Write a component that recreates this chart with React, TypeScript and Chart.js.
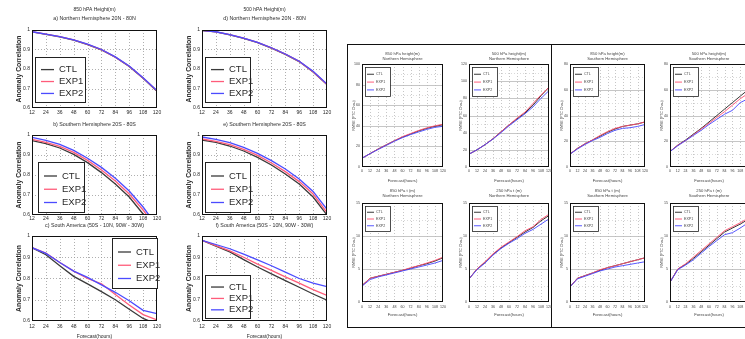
import React, { useEffect, useRef } from "react";
import { Chart, registerables } from "chart.js";

Chart.register(...registerables);

// ---------------- data ----------------
const AC_HOURS = [12, 24, 36, 48, 60, 72, 84, 96, 108, 120];
const RMSE_HOURS = [0, 12, 24, 36, 48, 60, 72, 84, 96, 108, 120];
const SERIES_NAMES = ["CTL", "EXP1", "EXP2"];
const AC_Y_TICKS = [0.6, 0.7, 0.8, 0.9, 1];

// a) 850 hPa NH
const acA_CTL = [0.99, 0.978, 0.965, 0.948, 0.925, 0.898, 0.86, 0.813, 0.753, 0.686];
const acA_EXP1 = [0.991, 0.979, 0.966, 0.949, 0.926, 0.899, 0.861, 0.814, 0.754, 0.688];
const acA_EXP2 = [0.991, 0.979, 0.966, 0.949, 0.927, 0.9, 0.862, 0.815, 0.755, 0.689];
// d) 500 hPa NH
const acD_CTL = [0.997, 0.99, 0.975, 0.957, 0.935, 0.907, 0.875, 0.838, 0.785, 0.72];
const acD_EXP1 = [0.998, 0.99, 0.976, 0.958, 0.936, 0.908, 0.876, 0.839, 0.786, 0.721];
const acD_EXP2 = [0.998, 0.991, 0.976, 0.958, 0.936, 0.909, 0.877, 0.84, 0.788, 0.723];
// b) 850 hPa SH
const acB_CTL = [0.972, 0.957, 0.935, 0.903, 0.862, 0.812, 0.755, 0.69, 0.605, 0.51];
const acB_EXP1 = [0.978, 0.963, 0.943, 0.913, 0.873, 0.825, 0.77, 0.705, 0.625, 0.53];
const acB_EXP2 = [0.988, 0.973, 0.953, 0.923, 0.884, 0.838, 0.784, 0.72, 0.64, 0.545];
// e) 500 hPa SH
const acE_CTL = [0.975, 0.963, 0.945, 0.92, 0.888, 0.85, 0.805, 0.755, 0.69, 0.6];
const acE_EXP1 = [0.98, 0.968, 0.952, 0.928, 0.898, 0.86, 0.817, 0.767, 0.705, 0.612];
const acE_EXP2 = [0.99, 0.978, 0.962, 0.938, 0.908, 0.872, 0.83, 0.78, 0.718, 0.628];
// c) 850 hPa South America
const acC_CTL = [0.945, 0.912, 0.86, 0.81, 0.775, 0.738, 0.7, 0.655, 0.612, 0.585];
const acC_EXP1 = [0.945, 0.92, 0.875, 0.835, 0.8, 0.775, 0.725, 0.675, 0.63, 0.605];
const acC_EXP2 = [0.945, 0.918, 0.875, 0.835, 0.805, 0.77, 0.735, 0.695, 0.65, 0.635];
// f) 500 hPa South America
const acF_CTL = [0.98, 0.952, 0.925, 0.889, 0.854, 0.822, 0.79, 0.759, 0.727, 0.698];
const acF_EXP1 = [0.98, 0.955, 0.93, 0.9, 0.868, 0.838, 0.808, 0.778, 0.748, 0.72];
const acF_EXP2 = [0.98, 0.96, 0.94, 0.915, 0.888, 0.86, 0.83, 0.8, 0.778, 0.762];

// RMSE panels
const rm1_CTL = [8.5, 13, 17.5, 21.5, 25.5, 29, 32, 35, 37.5, 39.5, 41];
const rm1_EXP1 = [8.5, 13, 17.5, 21.5, 25.5, 29.5, 32.5, 35.5, 38, 40, 41.5];
const rm1_EXP2 = [8.5, 13, 17, 21, 25, 28.5, 31.5, 34, 36.5, 38.5, 39.5];

const rm2_CTL = [15, 20, 26, 33, 41, 49, 56, 63, 72, 83, 93];
const rm2_EXP1 = [15, 20, 26, 33, 41, 49, 57, 64, 74, 84, 93];
const rm2_EXP2 = [15, 20, 26, 32.5, 40, 48, 55, 62, 70, 80, 89];

const rm3_CTL = [10, 14.5, 18, 21, 24, 27, 29.5, 31.5, 32.5, 33.5, 35];
const rm3_EXP1 = [10, 14.5, 18, 21, 24.5, 27.5, 30, 31.5, 32.5, 33.5, 35];
const rm3_EXP2 = [10, 14, 17.5, 20.5, 23, 26, 28.5, 30, 30.5, 31.5, 33];

const rm4_CTL = [12, 17, 21, 25.5, 30, 35, 40, 45, 50, 55, 60];
const rm4_EXP1 = [12, 17, 20.5, 25, 29.5, 34, 38.5, 43, 48, 53, 57];
const rm4_EXP2 = [12, 16.5, 20.5, 24.5, 28.5, 33, 37, 41, 44, 50, 53];

const rm5_CTL = [2.5, 3.6, 3.9, 4.2, 4.5, 4.8, 5.1, 5.5, 5.8, 6.2, 6.7];
const rm5_EXP1 = [2.5, 3.6, 3.9, 4.2, 4.5, 4.8, 5.2, 5.5, 5.9, 6.3, 6.8];
const rm5_EXP2 = [2.4, 3.4, 3.8, 4.1, 4.4, 4.7, 5.0, 5.3, 5.6, 5.9, 6.3];

const rm6_CTL = [3.5, 5.0, 6.0, 7.2, 8.2, 9.0, 9.8, 10.6, 11.3, 12.3, 13.1];
const rm6_EXP1 = [3.5, 5.0, 6.1, 7.3, 8.3, 9.1, 9.9, 10.8, 11.4, 12.5, 13.3];
const rm6_EXP2 = [3.5, 4.9, 5.9, 7.1, 8.1, 8.9, 9.6, 10.4, 11.0, 11.8, 12.6];

const rm7_CTL = [2.3, 3.6, 4.0, 4.4, 4.8, 5.2, 5.5, 5.8, 6.1, 6.4, 6.7];
const rm7_EXP1 = [2.3, 3.6, 4.0, 4.4, 4.9, 5.2, 5.5, 5.8, 6.1, 6.4, 6.7];
const rm7_EXP2 = [2.3, 3.5, 3.9, 4.3, 4.7, 5.0, 5.3, 5.5, 5.7, 5.9, 6.1];

const rm8_CTL = [3.0, 5.0, 5.7, 6.6, 7.6, 8.6, 9.6, 10.6, 11.2, 11.8, 12.5];
const rm8_EXP1 = [3.0, 5.0, 5.8, 6.8, 7.8, 8.8, 9.8, 10.8, 11.4, 12.0, 12.7];
const rm8_EXP2 = [3.0, 4.9, 5.6, 6.4, 7.4, 8.4, 9.3, 10.2, 10.5, 11.2, 12.0];

const RM_Y_TICKS_100 = [0, 20, 40, 60, 80, 100];
const RM_Y_TICKS_120 = [0, 20, 40, 60, 80, 100, 120];
const RM_Y_TICKS_80 = [0, 20, 40, 60, 80];
const RM_Y_TICKS_15 = [0, 5, 10, 15];

// ---------------- styling ----------------
const FONT = '"Liberation Sans", Arial, Helvetica, sans-serif';
const AC_COLORS = ["#3a3a3a", "#ff5c7a", "#4b4bff"];
const RM_COLORS = ["#222222", "#ff4d6d", "#4646ff"];

type Txt = { t: string; x: number; y: number; size: number; bold?: boolean; rot?: boolean };
type Leg = { x: number; y: number; w: number; h: number; size: number; l0: number; l1: number; tx: number; r0: number; dr: number; lw: number; bw: number };
type Cfg = {
  key: string;
  cx: number; cy: number; cw: number; ch: number;
  pl: number; pt: number; pr: number; pb: number;
  xs: number[]; ys: number[][];
  xTicks: number[]; yTicks: number[]; yMinor: number[];
  tickSize: number; xPad: number; yPad: number;
  lw: number; colors: string[];
  gridColor: string; minorColor: string; hSolid: boolean;
  texts: Txt[]; legend: Leg; textColor: string; yFmt: (v: number) => string;
};

function makeDecor(o: Cfg) {
  const line = (ctx: CanvasRenderingContext2D, x1: number, y1: number, x2: number, y2: number) => {
    ctx.beginPath();
    ctx.moveTo(x1, y1);
    ctx.lineTo(x2, y2);
    ctx.stroke();
  };
  return {
    id: "decor_" + o.key,
    beforeDatasetsDraw(chart: any) {
      const { ctx, chartArea: a, scales } = chart;
      const sx = scales.x, sy = scales.y;
      ctx.save();
      ctx.lineWidth = 0.8;
      ctx.strokeStyle = o.gridColor;
      ctx.setLineDash([1, 2]);
      o.xTicks.forEach((v) => {
        const p = Math.round(sx.getPixelForValue(v)) + 0.5;
        if (p <= a.left + 1 || p >= a.right - 1) return;
        line(ctx, p, a.top, p, a.bottom);
      });
      ctx.strokeStyle = o.minorColor;
      o.yMinor.forEach((v) => {
        const p = Math.round(sy.getPixelForValue(v)) + 0.5;
        if (p <= a.top + 1 || p >= a.bottom - 1) return;
        line(ctx, a.left, p, a.right, p);
      });
      ctx.strokeStyle = o.gridColor;
      ctx.setLineDash(o.hSolid ? [] : [1, 2]);
      o.yTicks.forEach((v) => {
        const p = Math.round(sy.getPixelForValue(v)) + 0.5;
        if (p <= a.top + 1 || p >= a.bottom - 1) return;
        line(ctx, a.left, p, a.right, p);
      });
      ctx.restore();
    },
    afterDatasetsDraw(chart: any) {
      const { ctx, chartArea: a } = chart;
      ctx.save();
      ctx.setLineDash([]);
      ctx.strokeStyle = "#111";
      ctx.lineWidth = 1;
      ctx.strokeRect(Math.round(a.left) + 0.5, Math.round(a.top) + 0.5, Math.round(a.right - a.left) - 1, Math.round(a.bottom - a.top) - 1);
      // legend box
      const L = o.legend;
      const lx = L.x - o.cx, ly = L.y - o.cy;
      ctx.fillStyle = "#fff";
      ctx.fillRect(lx, ly, L.w, L.h);
      ctx.lineWidth = L.bw;
      ctx.strokeStyle = "#222";
      ctx.strokeRect(lx + 0.5, ly + 0.5, L.w, L.h);
      SERIES_NAMES.forEach((name, i) => {
        const ry = ly + L.h * (L.r0 + i * L.dr);
        ctx.strokeStyle = o.colors[i];
        ctx.lineWidth = L.lw;
        line(ctx, lx + L.l0, ry, lx + L.l1, ry);
        ctx.fillStyle = o.textColor;
        ctx.font = `${L.size}px ${FONT}`;
        ctx.textAlign = "left";
        ctx.textBaseline = "middle";
        ctx.fillText(name, lx + L.tx, ry);
      });
      ctx.restore();
    },
    afterDraw(chart: any) {
      const { ctx } = chart;
      ctx.save();
      o.texts.forEach((t) => {
        ctx.fillStyle = o.textColor;
        ctx.font = `${t.bold ? "bold " : ""}${t.size}px ${FONT}`;
        ctx.textAlign = "center";
        ctx.textBaseline = "middle";
        const x = t.x - o.cx, y = t.y - o.cy;
        if (t.rot) {
          ctx.save();
          ctx.translate(x, y);
          ctx.rotate(-Math.PI / 2);
          ctx.fillText(t.t, 0, 0);
          ctx.restore();
        } else {
          ctx.fillText(t.t, x, y);
        }
      });
      ctx.restore();
    },
  };
}

function Panel({ cfg }: { cfg: Cfg }) {
  const ref = useRef<HTMLCanvasElement | null>(null);
  useEffect(() => {
    if (!ref.current) return;
    const o = cfg;
    const font = { family: FONT, size: o.tickSize };
    const chart = new Chart(ref.current, {
      type: "line",
      data: {
        datasets: o.ys.map((ys, i) => ({
          label: SERIES_NAMES[i],
          data: o.xs.map((x, j) => ({ x, y: ys[j] })),
          borderColor: o.colors[i],
          backgroundColor: o.colors[i],
          borderWidth: o.lw,
          pointRadius: 0,
          tension: 0,
          fill: false,
          order: 2 - i,
        })),
      },
      options: {
        animation: false,
        responsive: false,
        events: [],
        layout: { padding: { left: 0, top: o.pt - o.cy, right: o.cx + o.cw - o.pr, bottom: 0 } },
        plugins: { legend: { display: false }, tooltip: { enabled: false }, title: { display: false } },
        scales: {
          x: {
            type: "linear",
            min: o.xTicks[0],
            max: o.xTicks[o.xTicks.length - 1],
            afterBuildTicks: (s: any) => { s.ticks = o.xTicks.map((v) => ({ value: v })); },
            afterFit: (s: any) => { s.height = o.cy + o.ch - o.pb; },
            grid: { display: false, drawTicks: false },
            border: { display: false },
            ticks: { font, color: o.textColor, padding: o.xPad, maxRotation: 0, autoSkip: false, callback: (v: any) => String(v) },
          },
          y: {
            type: "linear",
            min: o.yTicks[0],
            max: o.yTicks[o.yTicks.length - 1],
            afterBuildTicks: (s: any) => { s.ticks = o.yTicks.map((v) => ({ value: v })); },
            afterFit: (s: any) => { s.width = o.pl - o.cx; },
            grid: { display: false, drawTicks: false },
            border: { display: false },
            ticks: { font, color: o.textColor, padding: o.yPad, autoSkip: false, callback: (v: any) => o.yFmt(Number(v)) },
          },
        },
      } as any,
      plugins: [makeDecor(o) as any],
    });
    return () => chart.destroy();
  }, [cfg]);
  return (
    <canvas
      ref={ref}
      width={cfg.cw}
      height={cfg.ch}
      style={{ position: "absolute", left: cfg.cx, top: cfg.cy, width: cfg.cw, height: cfg.ch }}
    />
  );
}

// ---------------- layout ----------------
const AC_COL_L = [32, 202];
const AC_COL_R = [157, 327];
const AC_ROW_T = [30, 135, 236];
const AC_ROW_B = [108, 215, 321];
const AC_CAN_T = [0, 116, 221];
const AC_CAN_B = [119, 224, 339];
const AC_XPAD = [2, 1, 3];

function acPanel(key: string, col: number, row: number, ys: number[][], titles: Txt[], leg: { x: number; y: number; w: number; h: number }, xTitle: boolean): Cfg {
  const pl = AC_COL_L[col], pr = AC_COL_R[col], pt = AC_ROW_T[row], pb = AC_ROW_B[row];
  const cx = pl - 26, cy = AC_CAN_T[row];
  const texts: Txt[] = [...titles, { t: "Anomaly Correlation", x: pl - 12.5, y: (pt + pb) / 2, size: 6.8, bold: true, rot: true }];
  if (xTitle) texts.push({ t: "Forecast(hours)", x: (pl + pr) / 2, y: 336.5, size: 5 });
  return {
    key, cx, cy, cw: pr + 10 - cx, ch: AC_CAN_B[row] - cy,
    pl, pt, pr, pb,
    xs: AC_HOURS, ys, xTicks: AC_HOURS, yTicks: AC_Y_TICKS, yMinor: [],
    tickSize: 5, xPad: AC_XPAD[row], yPad: 2,
    lw: 1.3, colors: AC_COLORS, gridColor: "#9a9a9a", minorColor: "#bbb", hSolid: false,
    texts,
    legend: { ...leg, size: 9.5, l0: 6, l1: 19, tx: 24, r0: 0.28, dr: 0.265, lw: 1.3, bw: 1 },
    textColor: "#2a2a2a",
    yFmt: (v) => String(Math.round(v * 10) / 10),
  };
}

const RM_COL_L = [362, 469, 570, 670];
const RM_COL_R = [443, 549, 645, 748];
const RM_ROW_T = [64, 203];
const RM_ROW_B = [167, 302];
const RM_CAN_T = [48, 186];
const RM_CAN_B = [185, 320];

function rmPanel(key: string, col: number, row: number, ys: number[][], yTicks: number[], yMinor: number[], t1: string, t2: string): Cfg {
  const pl = RM_COL_L[col], pr = RM_COL_R[col], pt = RM_ROW_T[row], pb = RM_ROW_B[row];
  const cx = pl - 12, cy = RM_CAN_T[row];
  const cxm = (pl + pr) / 2;
  const titleY = row === 0 ? [54, 59] : [191, 196];
  const fY = row === 0 ? 181 : 315;
  return {
    key, cx, cy, cw: pr + 6 - cx, ch: RM_CAN_B[row] - cy,
    pl, pt, pr, pb,
    xs: RMSE_HOURS, ys, xTicks: RMSE_HOURS, yTicks, yMinor,
    tickSize: 3.6, xPad: row === 0 ? 2 : 3, yPad: 2,
    lw: 0.9, colors: RM_COLORS, gridColor: "#b8b8b8", minorColor: "#d0d0d0", hSolid: true,
    texts: [
      { t: t1, x: cxm, y: titleY[0], size: 4.2 },
      { t: t2, x: cxm, y: titleY[1], size: 4.2 },
      { t: "Forecast(hours)", x: cxm, y: fY, size: 4.2 },
      { t: "RMSE (FTC Chau)", x: pl - 8.5, y: (pt + pb) / 2, size: 3.6, rot: true },
    ],
    legend: { x: pl + 3, y: pt + 3, w: 25, h: row === 0 ? 29 : 25, size: 3.6, l0: 2, l1: 9, tx: 11, r0: 0.25, dr: 0.27, lw: 0.9, bw: 0.8 },
    textColor: "#444",
    yFmt: (v) => String(v),
  };
}

const PANELS: Cfg[] = [
  acPanel("a", 0, 0, [acA_CTL, acA_EXP1, acA_EXP2], [
    { t: "850 hPA Height(m)", x: 94.5, y: 10, size: 5 },
    { t: "a) Northern Hemisphere 20N - 80N", x: 94.5, y: 19, size: 5.3 },
  ], { x: 35, y: 57, w: 50, h: 45 }, false),
  acPanel("d", 1, 0, [acD_CTL, acD_EXP1, acD_EXP2], [
    { t: "500 hPA Height(m)", x: 264.5, y: 10, size: 5 },
    { t: "d) Northern Hemisphere 20N - 80N", x: 264.5, y: 19, size: 5.3 },
  ], { x: 205, y: 57, w: 45, h: 45 }, false),
  acPanel("b", 0, 1, [acB_CTL, acB_EXP1, acB_EXP2], [
    { t: "b) Southern Hemisphere 20S - 80S", x: 94.5, y: 125, size: 5.3 },
  ], { x: 38, y: 162, w: 46, h: 50 }, false),
  acPanel("e", 1, 1, [acE_CTL, acE_EXP1, acE_EXP2], [
    { t: "e) Southern Hemisphere 20S - 80S", x: 264.5, y: 125, size: 5.3 },
  ], { x: 205, y: 162, w: 45, h: 50 }, false),
  acPanel("c", 0, 2, [acC_CTL, acC_EXP1, acC_EXP2], [
    { t: "c) South America (50S - 10N, 90W - 30W)", x: 94.5, y: 226, size: 5.3 },
  ], { x: 112, y: 238, w: 45, h: 50 }, true),
  acPanel("f", 1, 2, [acF_CTL, acF_EXP1, acF_EXP2], [
    { t: "f) South America (50S - 10N, 90W - 30W)", x: 264.5, y: 226, size: 5.3 },
  ], { x: 205, y: 275, w: 45, h: 43 }, true),
  rmPanel("r1", 0, 0, [rm1_CTL, rm1_EXP1, rm1_EXP2], RM_Y_TICKS_100, [10, 30, 50, 70, 90], "850 hPa height(m)", "Northern Hemisphere"),
  rmPanel("r2", 1, 0, [rm2_CTL, rm2_EXP1, rm2_EXP2], RM_Y_TICKS_120, [10, 30, 50, 70, 90, 110], "500 hPa height(m)", "Northern Hemisphere"),
  rmPanel("r3", 2, 0, [rm3_CTL, rm3_EXP1, rm3_EXP2], RM_Y_TICKS_80, [10, 30, 50, 70], "850 hPa height(m)", "Southern Hemisphere"),
  rmPanel("r4", 3, 0, [rm4_CTL, rm4_EXP1, rm4_EXP2], RM_Y_TICKS_80, [10, 30, 50, 70], "500 hPa height(m)", "Southern Hemisphere"),
  rmPanel("r5", 0, 1, [rm5_CTL, rm5_EXP1, rm5_EXP2], RM_Y_TICKS_15, [2.5, 7.5, 12.5], "850 hPa t (m)", "Northern Hemisphere"),
  rmPanel("r6", 1, 1, [rm6_CTL, rm6_EXP1, rm6_EXP2], RM_Y_TICKS_15, [2.5, 7.5, 12.5], "250 hPa t (m)", "Northern Hemisphere"),
  rmPanel("r7", 2, 1, [rm7_CTL, rm7_EXP1, rm7_EXP2], RM_Y_TICKS_15, [2.5, 7.5, 12.5], "850 hPa t (m)", "Southern Hemisphere"),
  rmPanel("r8", 3, 1, [rm8_CTL, rm8_EXP1, rm8_EXP2], RM_Y_TICKS_15, [2.5, 7.5, 12.5], "250 hPa t (m)", "Southern Hemisphere"),
];

export default function App() {
  return (
    <div style={{ position: "fixed", left: 0, top: 0, width: 745, height: 339, overflow: "hidden", background: "#fff" }}>
      <div style={{ position: "absolute", left: 347, top: 44, width: 420, height: 284, border: "1.5px solid #111", boxSizing: "border-box" }} />
      <div style={{ position: "absolute", left: 550.5, top: 44, width: 1.5, height: 284, background: "#111" }} />
      {PANELS.map((p) => (
        <Panel key={p.key} cfg={p} />
      ))}
    </div>
  );
}
